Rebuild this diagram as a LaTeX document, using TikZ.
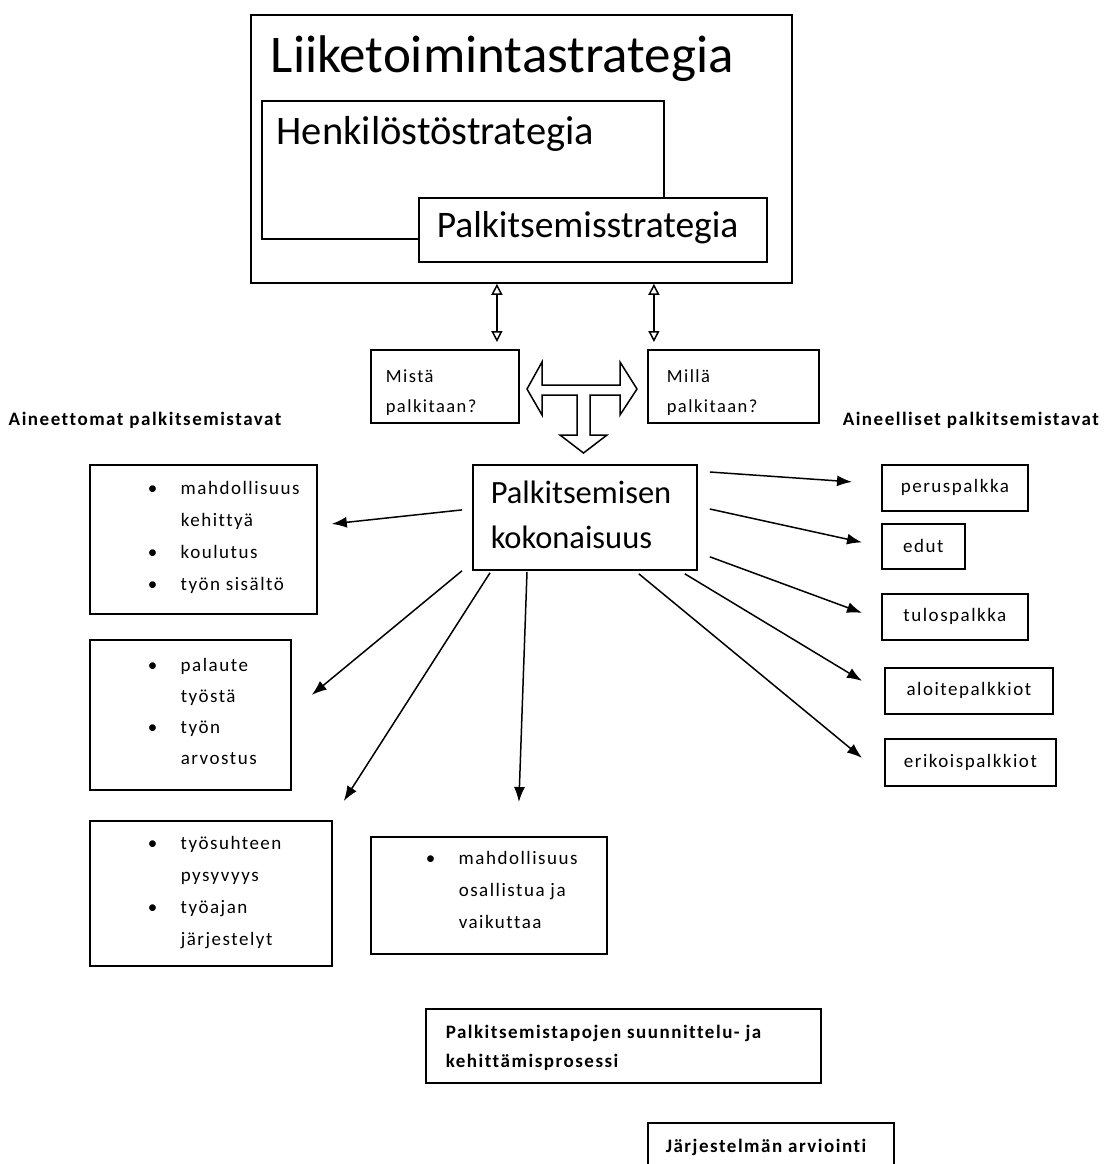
\documentclass[tikz,border=0pt]{standalone}
\usepackage{fontspec}
\setmainfont{Carlito}
\newfontfamily\sm[LetterSpace=8,Ligatures=NoCommon]{Carlito}
\usetikzlibrary{arrows.meta}

\tikzset{every picture/.style={line width=1.5pt}}
\newcommand{\blt}{\makebox[33pt][l]{\textbullet}}
\newcommand{\ind}{\hspace*{33pt}}

\begin{document}
\begin{tikzpicture}[x=1pt,y=1pt,yscale=-1,
  box/.style={draw,line width=1.8pt,inner sep=0pt,anchor=north west},
  rbox/.style={box,font=\fontsize{19}{20}\sm},
  txt/.style={anchor=base west,inner sep=0pt,align=left,font=\fontsize{19}{32}\sm},
  bold/.style={txt,font=\fontsize{19}{29}\sm\bfseries},
  arr/.style={-{Latex[length=15pt,width=11pt]},line width=1.5pt},
  dbl/.style={{Triangle[open,length=11pt,width=11pt]}-{Triangle[open,length=11pt,width=11pt]},line width=1.5pt}]
\useasboundingbox (0,0) rectangle (1105,1164);

%Rectangles of the strategies
\node[box,minimum width=541,minimum height=268] (liike) at (250,14) {};
\node[box,minimum width=402,minimum height=138] (henk) at (261,100) {};
\node[box,fill=white,minimum width=348,minimum height=64] (palk) at (418,197) {};

% Text Node
\node[txt,font=\fontsize{53}{60}\selectfont] (liiket) at (270,73) {Liiketoimintastrategia};
% Text Node
\node[txt,font=\fontsize{40.5}{48}\selectfont] (henkt) at (276,144) {Henkilöstöstrategia};
% Text Node
\node[txt,font=\fontsize{37.5}{45}\selectfont] (palkt) at (436,237) {Palkitsemisstrategia};

%Question boxes
\node[box,minimum width=148,minimum height=73] (mista) at (370,349) {};
\node[box,minimum width=171,minimum height=73] (milla) at (647,349) {};
% Text Node
\node[txt,font=\fontsize{18.5}{30}\sm] (mistat) at (385,412) {Mistä\\palkitaan?};
% Text Node
\node[txt,font=\fontsize{18.5}{30}\sm] (millat) at (666,412) {Millä\\palkitaan?};

%Double arrows
\draw[dbl] (mista.north) ++(52,-7) coordinate (m1) -- (m1 |- liike.south);
\draw[dbl] (milla.north) ++(-79.5,-7) coordinate (m2) -- (m2 |- liike.south);

%Block arrow
\draw[line width=1.5pt] (527,389) -- (542,362) -- (542,385) -- (620,385) -- (620,362) -- (637,389) -- (620,415) -- (620,395) -- (590,395) -- (590,435) -- (607,435) -- (583.5,453) -- (560,435) -- (577,435) -- (577,395) -- (542,395) -- (542,415) -- cycle;

% Text Node
\node[bold] (aineet) at (8,425) {Aineettomat palkitsemistavat};
% Text Node
\node[bold] (ainel) at (842,425) {Aineelliset palkitsemistavat};

%Center box
\node[box,minimum width=224,minimum height=105] (koko) at (472,464) {};
% Text Node
\node[txt,font=\fontsize{32.5}{45}\selectfont] (kokot) at (490,548) {Palkitsemisen\\kokonaisuus};

%Left boxes
\node[box,minimum width=227,minimum height=149] (aine1) at (89,464) {};
\node[box,minimum width=201,minimum height=150] (aine2) at (89,639) {};
\node[box,minimum width=242,minimum height=145] (aine3) at (89,820) {};
\node[box,minimum width=236,minimum height=117] (aine4) at (370,836) {};
% Text Node
\node[txt] (aine1t) at (147,590) {\blt mahdollisuus\\\ind kehittyä\\\blt koulutus\\\blt työn sisältö};
% Text Node
\node[txt,font=\fontsize{19}{31}\sm] (aine2t) at (147,764) {\blt palaute\\\ind työstä\\\blt työn\\\ind arvostus};
% Text Node
\node[txt] (aine3t) at (147,945) {\blt työsuhteen\\\ind pysyvyys\\\blt työajan\\\ind järjestelyt};
% Text Node
\node[txt] (aine4t) at (425,928) {\blt mahdollisuus\\\ind osallistua ja\\\ind vaikuttaa};

%Right boxes
\node[rbox,minimum width=146,minimum height=46] (peru) at (881,464) {peruspalkka};
\node[rbox,minimum width=83,minimum height=45] (edut) at (881,523) {edut};
\node[rbox,minimum width=146,minimum height=46] (tulos) at (881,593) {tulospalkka};
\node[rbox,minimum width=168,minimum height=46] (aloite) at (884,667) {aloitepalkkiot};
\node[rbox,minimum width=171,minimum height=47] (erikois) at (884,738) {erikoispalkkiot};

%Arrows
\draw[arr] ([shift={(12,8)}]koko.north east) -- ([shift={(-29,-6)}]peru.west);
\draw[arr] ([shift={(12,45)}]koko.north east) -- ([shift={(-19,-4)}]edut.west);
\draw[arr] ([shift={(12,-14)}]koko.south east) -- ([shift={(-19,-4)}]tulos.west);
\draw[arr] ([shift={(-13,3)}]koko.south east) -- ([shift={(-22,-10)}]aloite.west);
\draw[arr] ([shift={(-59,3)}]koko.south east) -- ([shift={(-22,-4.5)}]erikois.west);
\draw[arr] ([shift={(-10,-7.5)}]koko.west) -- ([shift={(14,-15.5)}]aine1.east);
\draw[arr] ([shift={(-10,0)}]koko.south west) -- ([shift={(20,-20)}]aine2.east);
\draw[arr] ([shift={(18,2)}]koko.south west) -- ([shift={(11,-19)}]aine3.north east);
\draw[arr] ([shift={(55,1)}]koko.south west) -- ([shift={(30,-34)}]aine4.north);

%Bottom boxes
\node[box,minimum width=395,minimum height=74] (prosessi) at (425,1008) {};
\node[box,minimum width=246,minimum height=70] (arvio) at (647,1122) {};
% Text Node
\node[bold] (prosessit) at (445,1067) {Palkitsemistapojen suunnittelu- ja\\kehittämisprosessi};
% Text Node
\node[bold] (arviot) at (665,1152) {Järjestelmän arviointi};

\end{tikzpicture}
\end{document}
